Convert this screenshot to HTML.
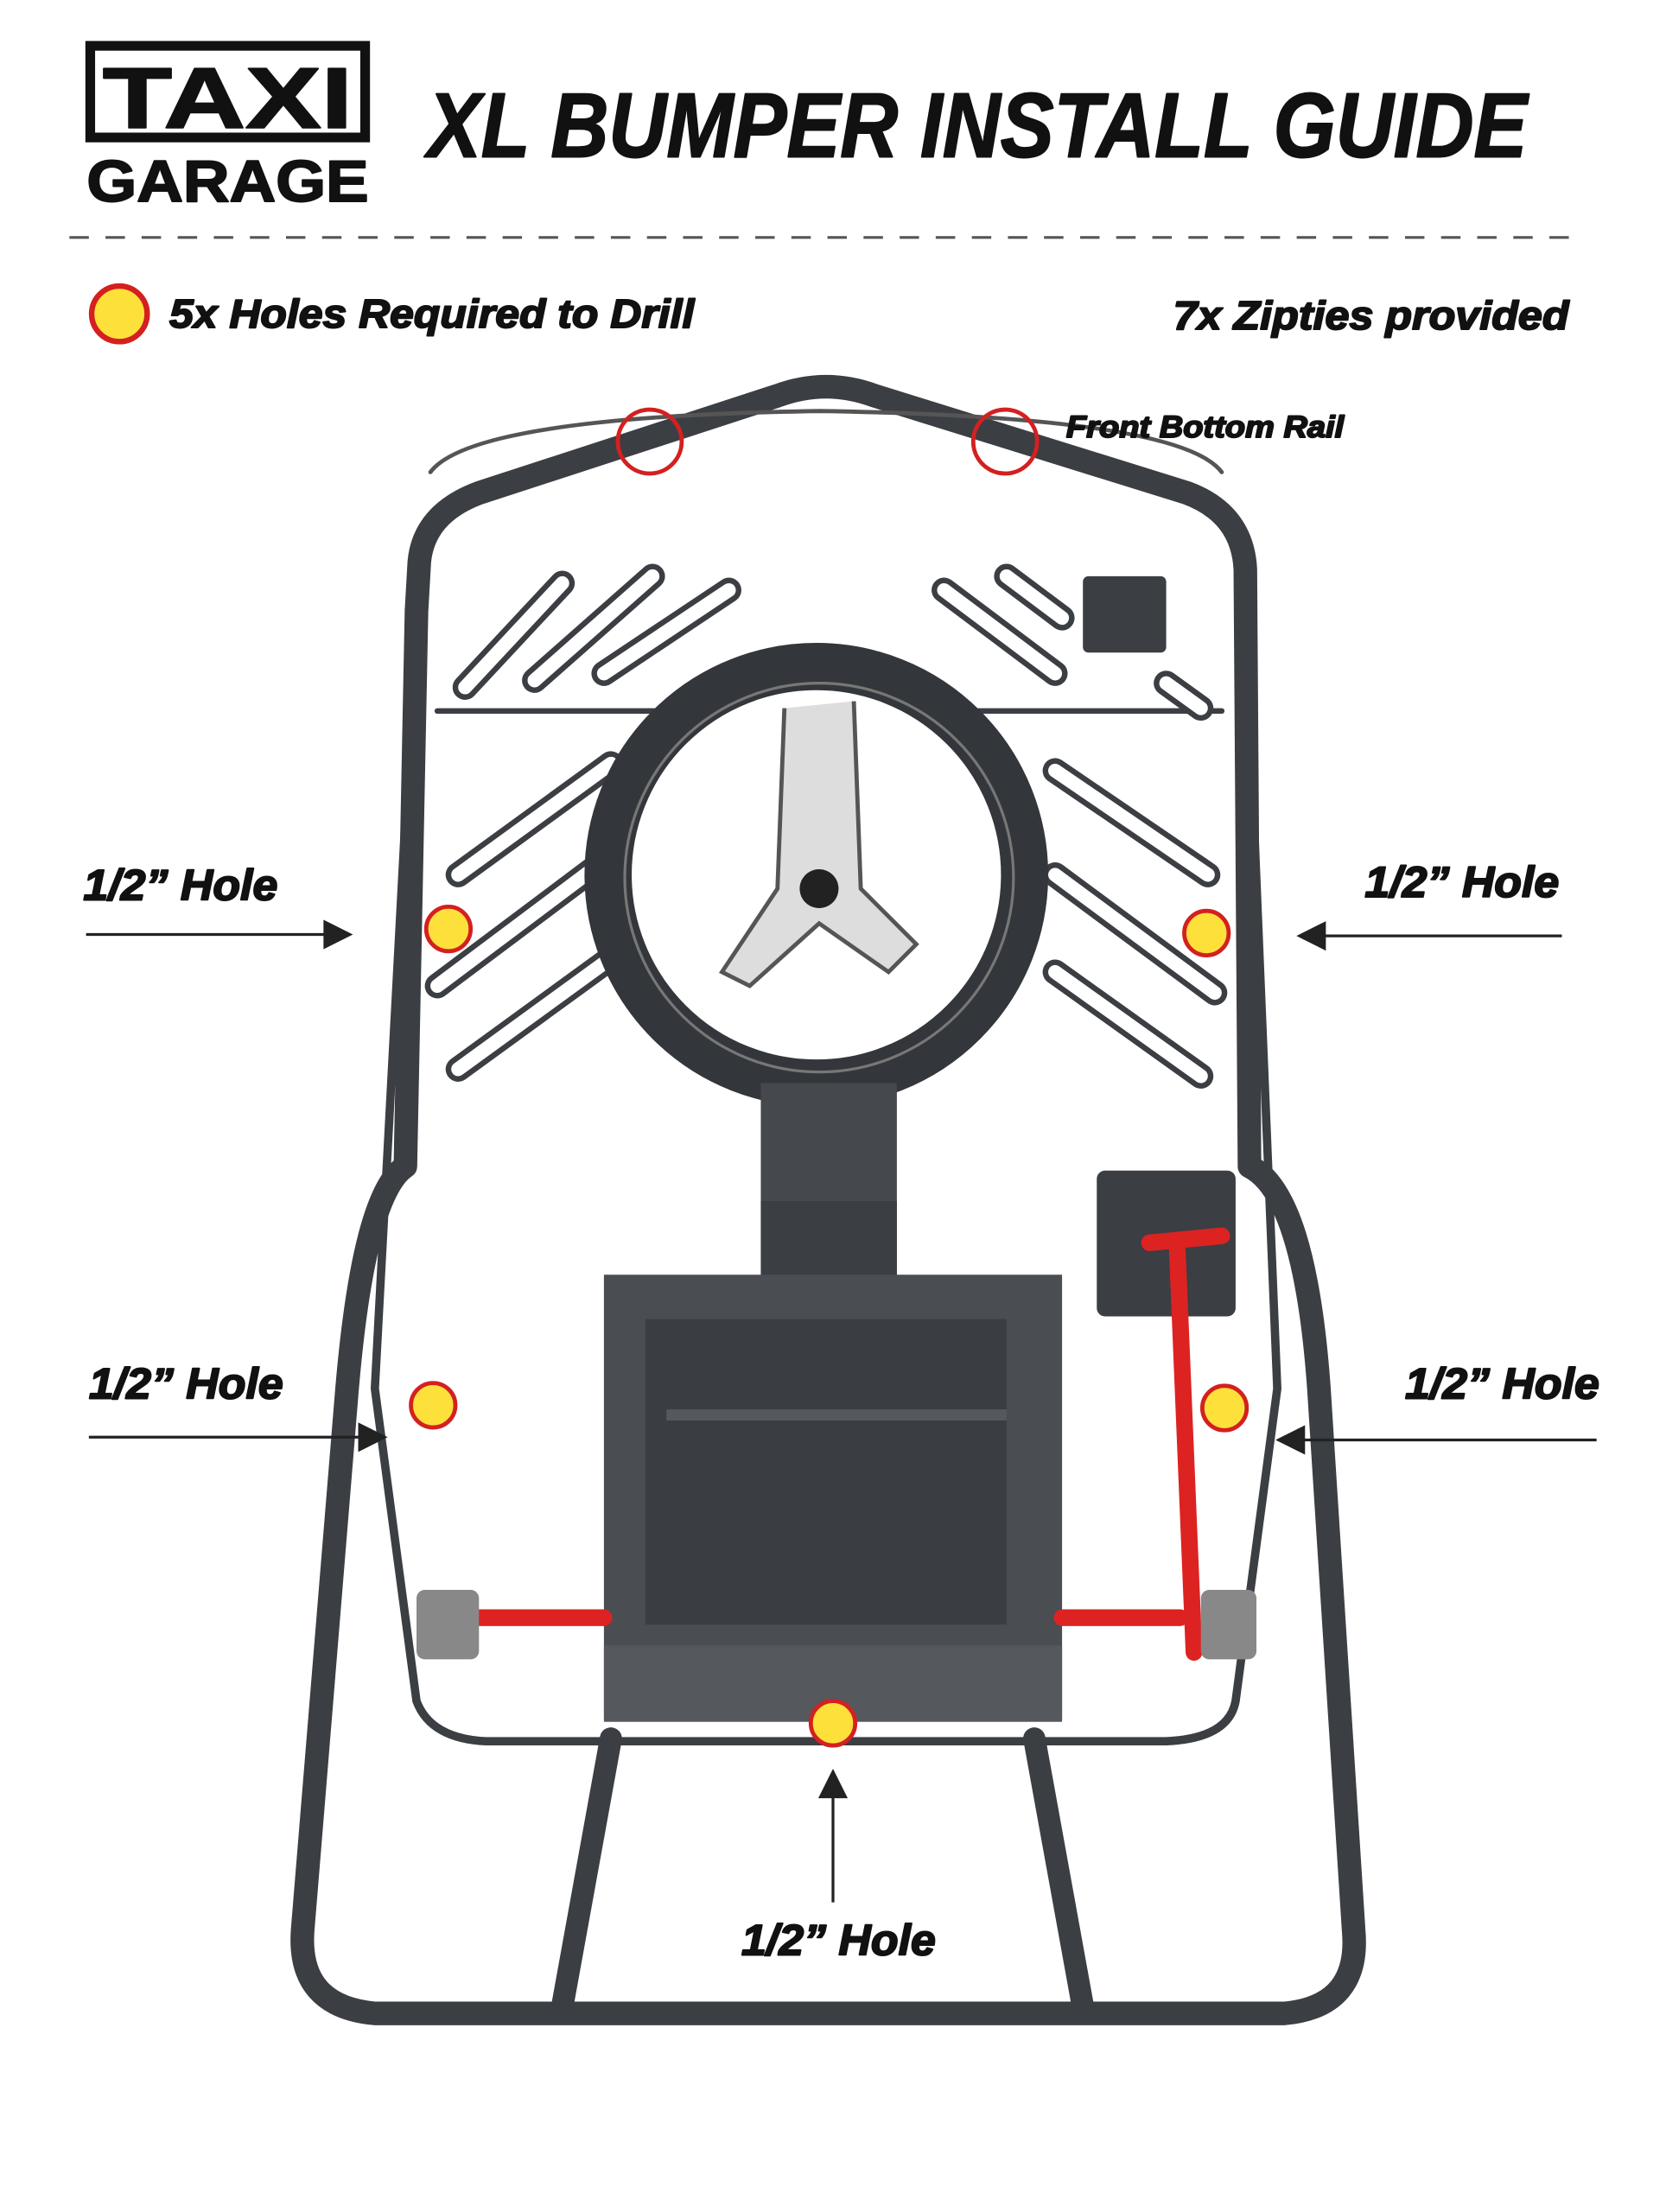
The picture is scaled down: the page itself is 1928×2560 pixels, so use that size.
<!DOCTYPE html>
<html><head><meta charset="utf-8"><style>
html,body{margin:0;padding:0;background:#fff}
svg{display:block}
text{font-family:"Liberation Sans",sans-serif;font-weight:bold;font-style:italic;fill:#111;stroke:#111;stroke-width:1.2;stroke-linejoin:round}
</style></head><body>
<svg width="1928" height="2560" viewBox="0 0 1200 1593" preserveAspectRatio="none" xmlns="http://www.w3.org/2000/svg">
<rect width="1200" height="1593" fill="#fff"/>
<!-- logo -->
<rect x="65" y="33" width="198" height="66" fill="none" stroke="#111" stroke-width="7"/>
<text x="164" y="92" font-size="62" text-anchor="middle" style="font-style:normal" stroke-width="2" textLength="180" lengthAdjust="spacingAndGlyphs">TAXI</text>
<text x="164" y="145" font-size="42" text-anchor="middle" style="font-style:normal" stroke-width="2" textLength="203" lengthAdjust="spacingAndGlyphs">GARAGE</text>
<text x="308" y="113" font-size="66" stroke-width="3" textLength="792" lengthAdjust="spacingAndGlyphs">XL BUMPER INSTALL GUIDE</text>
<line x1="50" y1="171" x2="1140" y2="171" stroke="#555" stroke-width="2" stroke-dasharray="14,12"/>
<circle cx="86" cy="226" r="20" fill="#fde03a" stroke="#d42020" stroke-width="4"/>
<text x="122" y="236" font-size="29" textLength="378" lengthAdjust="spacingAndGlyphs">5x Holes Required to Drill</text>
<text x="1130" y="237" font-size="29" text-anchor="end" textLength="285" lengthAdjust="spacingAndGlyphs">7x Zipties provided</text>
<!-- frame -->
<g fill="none" stroke="#3b3e43" stroke-linecap="round" stroke-linejoin="round">
<path d="M300 440 L302 405 Q305 370 345 355 L560 285 Q595 272 630 285 L855 355 Q895 370 897 410 L900 840 Q940 860 950 1000 L975 1390 Q980 1445 925 1450 L270 1450 Q214 1445 218 1390 L250 1000 Q262 860 292 840 Z" stroke-width="17"/>
<path d="M315 512 L880 512" stroke-width="4"/>
<path d="M300 440 L270 1000 L300 1225 Q310 1252 350 1254 L840 1254 Q885 1252 890 1225 L920 1000 L897 440" stroke-width="6"/>
<path d="M440 1252 L405 1445 M745 1252 L780 1445" stroke-width="16"/>
<path d="M310 340 Q340 300 590 296 Q850 300 880 340" stroke-width="3" stroke="#555"/>
</g>
<!-- slots -->
<g fill="none" stroke-linecap="round">
<g stroke="#3b3e43" stroke-width="18">
<path d="M335 495 L405 420 M385 490 L470 415 M435 485 L525 425"/>
<path d="M680 425 L760 485 M725 415 L765 445 M840 492 L865 510"/>
<path d="M330 630 L440 550 M315 710 L435 620 M330 770 L440 690"/>
<path d="M760 555 L870 630 M760 630 L875 715 M760 700 L865 775"/>
</g>
<g stroke="#fff" stroke-width="10">
<path d="M335 495 L405 420 M385 490 L470 415 M435 485 L525 425"/>
<path d="M680 425 L760 485 M725 415 L765 445 M840 492 L865 510"/>
<path d="M330 630 L440 550 M315 710 L435 620 M330 770 L440 690"/>
<path d="M760 555 L870 630 M760 630 L875 715 M760 700 L865 775"/>
</g>
</g>
<rect x="780" y="415" width="60" height="55" fill="#3b3e43" rx="4"/>
<!-- steering -->
<circle cx="588" cy="630" r="150" fill="#fff" stroke="#33363a" stroke-width="34"/>
<circle cx="590" cy="632" r="140" fill="none" stroke="#777" stroke-width="2"/>
<path d="M565 510 L560 640 L520 700 L540 710 L590 665 L640 700 L660 680 L620 640 L615 505" fill="#ddd" stroke="#555" stroke-width="3"/>
<circle cx="590" cy="640" r="14" fill="#222"/>
<!-- stem & box -->
<rect x="548" y="780" width="98" height="140" fill="#45484d"/>
<rect x="548" y="865" width="98" height="55" fill="#3b3e43"/>
<rect x="435" y="918" width="330" height="320" fill="#4a4d52"/>
<rect x="465" y="950" width="260" height="220" fill="#3a3d42"/>
<rect x="480" y="1015" width="245" height="8" fill="#55585d"/>
<rect x="435" y="1185" width="330" height="55" fill="#55585d"/>
<!-- right box & red -->
<rect x="790" y="843" width="100" height="105" fill="#3b3e43" rx="6"/>
<g stroke="#d22" stroke-width="12" fill="none" stroke-linecap="round">
<path d="M848 900 L860 1190 M335 1165 L435 1165 M765 1165 L850 1165"/>
<path d="M828 895 L880 890"/>
</g>
<rect x="300" y="1145" width="45" height="50" fill="#888" rx="6"/>
<rect x="865" y="1145" width="40" height="50" fill="#888" rx="6"/>
<!-- red outline circles -->
<circle cx="468" cy="318" r="23" fill="none" stroke="#d42020" stroke-width="3"/>
<circle cx="724" cy="318" r="23" fill="none" stroke="#d42020" stroke-width="3"/>
<text x="768" y="315" font-size="22" textLength="200" lengthAdjust="spacingAndGlyphs">Front Bottom Rail</text>
<!-- yellow dots -->
<g fill="#fde03a" stroke="#d42020" stroke-width="3">
<circle cx="323" cy="669" r="16"/><circle cx="869" cy="672" r="16"/>
<circle cx="312" cy="1012" r="16"/><circle cx="882" cy="1014" r="16"/>
<circle cx="600" cy="1241" r="16"/>
</g>
<!-- labels and arrows -->
<g font-size="31">
<text x="60" y="648" textLength="140" lengthAdjust="spacingAndGlyphs">1/2” Hole</text>
<text x="983" y="646" textLength="140" lengthAdjust="spacingAndGlyphs">1/2” Hole</text>
<text x="64" y="1007" textLength="140" lengthAdjust="spacingAndGlyphs">1/2” Hole</text>
<text x="1012" y="1007" textLength="140" lengthAdjust="spacingAndGlyphs">1/2” Hole</text>
<text x="534" y="1408" textLength="140" lengthAdjust="spacingAndGlyphs">1/2” Hole</text>
</g>
<g stroke="#222" stroke-width="2" fill="#222">
<line x1="62" y1="673" x2="240" y2="673"/><path d="M252 673 L234 664 L234 682 Z"/>
<line x1="1125" y1="674" x2="950" y2="674"/><path d="M936 674 L954 665 L954 683 Z"/>
<line x1="64" y1="1035" x2="265" y2="1035"/><path d="M277 1035 L259 1026 L259 1044 Z"/>
<line x1="1150" y1="1037" x2="935" y2="1037"/><path d="M921 1037 L939 1028 L939 1046 Z"/>
<line x1="600" y1="1370" x2="600" y2="1290"/><path d="M600 1276 L591 1294 L609 1294 Z"/>
</g>
</svg>
</body></html>
